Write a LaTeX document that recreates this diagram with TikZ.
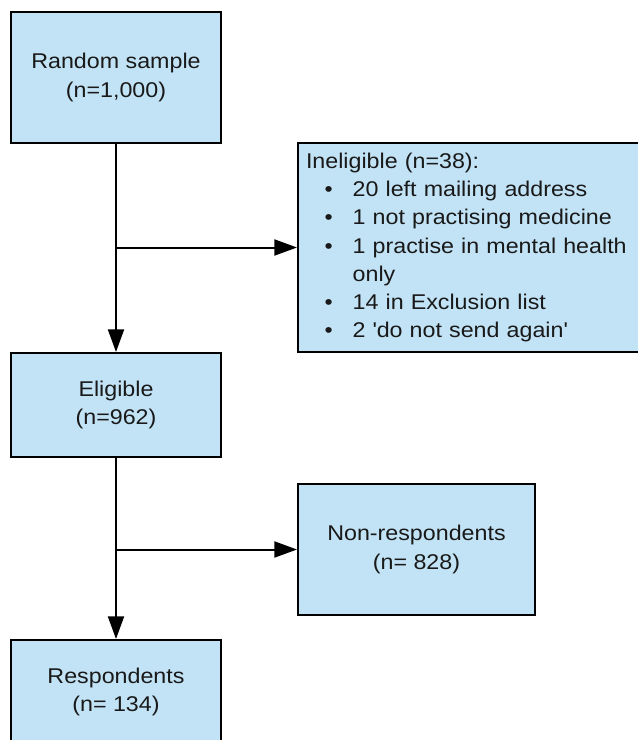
\documentclass[tikz,border=0pt]{standalone}
\usepackage{fontspec}
\setmainfont[FakeStretch=1.09]{Liberation Sans}
\usetikzlibrary{arrows.meta}
\definecolor{boxblue}{HTML}{C2E3F5}
\newcommand{\ineitem}[1]{\hspace*{14pt}\makebox[21pt][l]{\textbullet}#1}

\tikzset{every picture/.style={line width=0.75pt}}
\tikzset{
  flowbox/.style={draw, fill=boxblue, line width=1.5pt, inner sep=0pt, align=center, text=black!90, font=\fontsize{16}{21.2}\selectfont},
  flowarrow/.style={line width=1.5pt, -{Triangle[length=17pt,width=12pt]}}
}

\begin{document}
\begin{tikzpicture}[x=0.75pt,y=0.75pt,yscale=-1,xscale=1]
    %set diagram left start at 0, and has height of 740
    \path[use as bounding box] (0,0) rectangle (637,740);
    %Shape: Rectangle [id:sample]
    \node [flowbox, minimum width=157.5pt, minimum height=98.25pt] (sample) at (116,77.5) {Random sample\\(n=1,000)};
    %Shape: Rectangle [id:inel]
    \node [flowbox, align=left, text width=249.75pt, inner xsep=6pt, minimum height=156.75pt] (inel) at (472.5,247.5)
      {Ineligible (n=38):\\
       \ineitem{20 left mailing address}\\
       \ineitem{1 not practising medicine}\\
       \ineitem{1 practise in mental health}\\
       \hspace*{35pt}only\\
       \ineitem{14 in Exclusion list}\\
       \ineitem{2 \textquotesingle do not send again\textquotesingle}};
    %Shape: Rectangle [id:elig]
    \node [flowbox, minimum width=157.5pt, minimum height=78pt] (elig) at (116,405) {Eligible\\(n=962)};
    %Shape: Rectangle [id:nonresp]
    \node [flowbox, minimum width=177.75pt, minimum height=98.25pt] (nonresp) at (416.5,549.5) {Non-respondents\\(n= 828)};
    %Shape: Rectangle [id:resp]
    \node [flowbox, minimum width=157.5pt, minimum height=78pt] (resp) at (116,692) {Respondents\\(n= 134)};

    % Branch points
    \coordinate (split1) at (sample.south |- inel.west);
    \coordinate (split2) at (elig.south |- nonresp.west);

    %Straight Lines with arrows
    \draw [flowarrow] (sample) -- (elig);
    \draw [flowarrow] (split1) -- (inel.west);
    \draw [flowarrow] (elig) -- (resp);
    \draw [flowarrow] (split2) -- (nonresp.west);
\end{tikzpicture}
\end{document}
